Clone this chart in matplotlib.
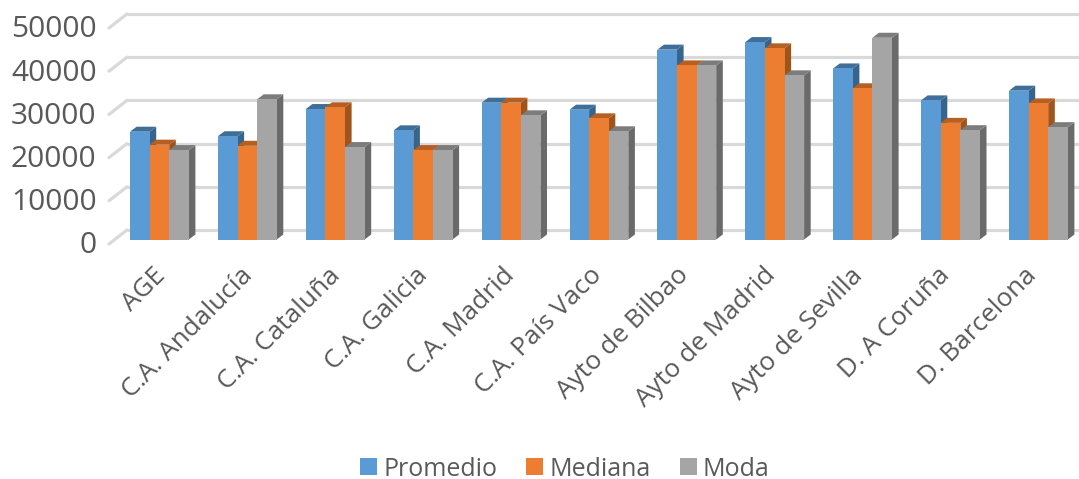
import matplotlib
matplotlib.use("Agg")
import matplotlib.pyplot as plt
from matplotlib.patches import Patch
from matplotlib.transforms import ScaledTranslation

plt.rcParams['font.family'] = ['Open Sans', 'DejaVu Sans']

categories = ["AGE", "C.A. Andalucía", "C.A. Cataluña", "C.A. Galicia", "C.A. Madrid",
              "C.A. País Vaco", "Ayto de Bilbao", "Ayto de Madrid", "Ayto de Sevilla",
              "D. A Coruña", "D. Barcelona"]
promedio = [24950, 23900, 30200, 25270, 31670, 30050, 43950, 45700, 39600, 32200, 34450]
mediana = [21950, 21700, 30600, 20700, 31670, 28050, 40300, 44250, 35000, 27000, 31500]
moda = [20700, 32450, 21400, 20700, 28750, 25050, 40300, 38000, 46700, 25300, 26000]
y_ticks = [0, 10000, 20000, 30000, 40000, 50000]
series_names = ["Promedio", "Mediana", "Moda"]

W, H = 1079, 479
PX_X = 87.9                # px per category
PX_Y = 0.00432             # px per value unit
AX_L, AX_R, AX_T, AX_B = 109, 1079, 0, 239.5
px = lambda n: n / PX_X
py = lambda n: n / PX_Y

fig = plt.figure(figsize=(W / 100, H / 100), dpi=100, facecolor="white")
ax = fig.add_axes([AX_L / W, 1 - AX_B / H, (AX_R - AX_L) / W, (AX_B - AX_T) / H])
ax.set_xlim((AX_L - 159.4) / PX_X, (AX_R - 159.4) / PX_X)
ax.set_ylim(0, AX_B / PX_Y)
ax.patch.set_visible(False)
for s in ax.spines.values():
    s.set_visible(False)

# Floor/back-wall grid
GRID = "#d9d9d9"
x0, x1 = ax.get_xlim()
for v in y_ticks:
    ax.plot([x0 + px(18), x1], [v + py(9.5)] * 2, color=GRID, lw=2.3, zorder=1,
            clip_on=False, solid_capstyle="butt")
    ax.plot([x0, x0 + px(18)], [v - py(4.5), v + py(9.5)], color=GRID, lw=2.3, zorder=1,
            clip_on=False, solid_capstyle="round")

# 3-D looking bars
w = 19.6 / PX_X
dx, dy = px(6.6), py(5.0)
styles = [("#5B9BD5", "#3F6E99", "#38648C"),
          ("#ED7D31", "#B65F22", "#A0531B"),
          ("#A5A5A5", "#7C7C7C", "#6A6A6A")]
for k, (vals, (front, top, side)) in enumerate(zip([promedio, mediana, moda], styles)):
    z = 3 + k
    xs = [i + (k - 1) * w for i in range(len(vals))]
    for xc, v in zip(xs, vals):
        l, r = xc - w / 2, xc + w / 2
        ax.fill([r, r + dx, r + dx, r], [0, dy, v + dy, v], color=side, lw=0, zorder=z, clip_on=False)
        ax.fill([l, l + dx, r + dx, r], [v, v + dy, v + dy, v], color=top, lw=0, zorder=z, clip_on=False)
    ax.bar(xs, vals, width=w, color=front, lw=0, zorder=z + 0.5)

TXT = "#595959"
ax.set_yticks(y_ticks)
ax.set_yticklabels([str(v) for v in y_ticks], fontsize=21.5, color=TXT)
ax.set_xticks(range(len(categories)))
ax.set_xticklabels(categories, rotation=45, ha="right", va="top", rotation_mode="anchor",
                   fontsize=18.8, color=TXT)
ax.tick_params(axis="both", length=0)
ax.tick_params(axis="y", pad=9)
ax.tick_params(axis="x", pad=14)
# Nudge labels to where the reference puts them
ylab_shift = ScaledTranslation(0, -2.8 / 100, fig.dpi_scale_trans)
for t in ax.get_yticklabels():
    t.set_transform(t.get_transform() + ylab_shift)
for i, t in enumerate(ax.get_xticklabels()):
    t.set_transform(t.get_transform() + ScaledTranslation((-6 - 0.8 * i) / 100, -4 / 100, fig.dpi_scale_trans))

handles = [Patch(color=s[0], lw=0) for s in styles]
fig.legend(handles, series_names, loc="center", bbox_to_anchor=(565 / W, 1 - 469 / H), ncol=3,
           frameon=False, fontsize=18, labelcolor=TXT, handlelength=0.68, handleheight=0.68,
           handletextpad=0.25, columnspacing=1.15, borderaxespad=0, borderpad=0)

fig.savefig("out.png", dpi=100)
